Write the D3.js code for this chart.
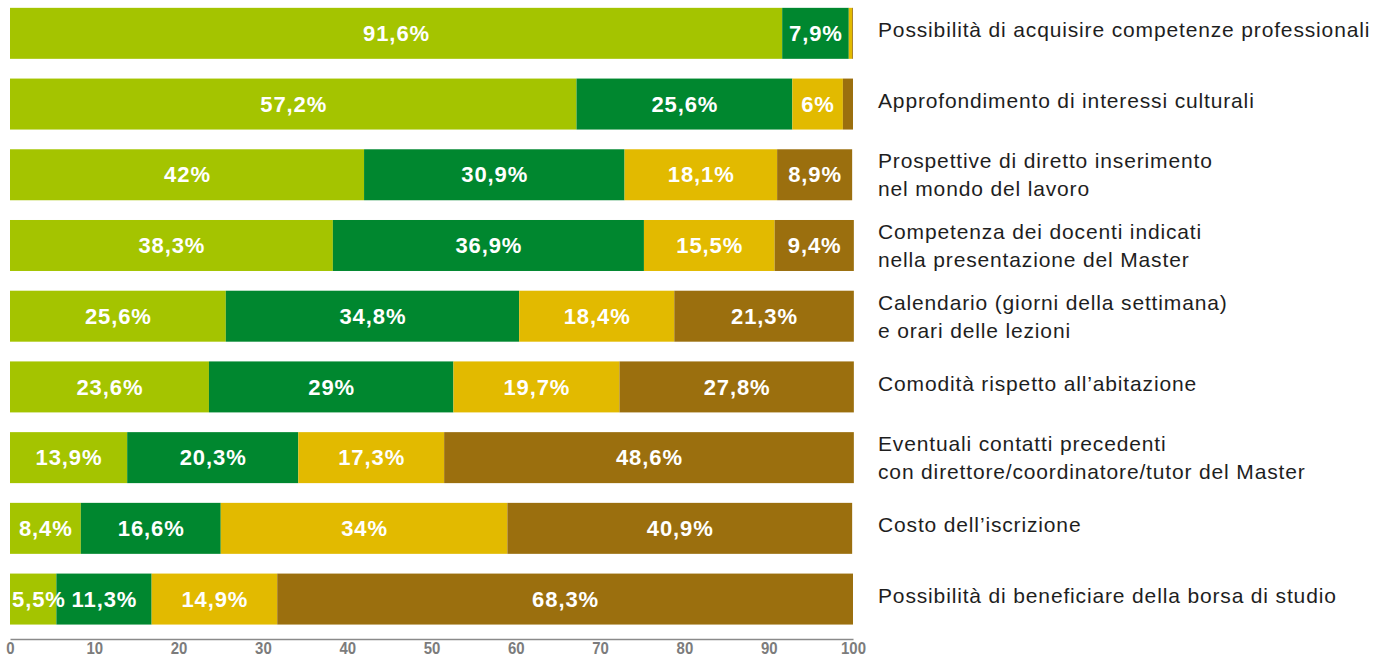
<!DOCTYPE html>
<html>
<head>
<meta charset="utf-8">
<script src="https://cdn.jsdelivr.net/npm/d3@7"></script>
<style>
html,body{margin:0;padding:0;background:#fff;}
svg{display:block;}
</style>
</head>
<body>
<svg id="chart" width="1376" height="658"></svg>
<script>
const categories = [
  ["Possibilità di acquisire competenze professionali"],
  ["Approfondimento di interessi culturali"],
  ["Prospettive di diretto inserimento", "nel mondo del lavoro"],
  ["Competenza dei docenti indicati", "nella presentazione del Master"],
  ["Calendario (giorni della settimana)", "e orari delle lezioni"],
  ["Comodità rispetto all’abitazione"],
  ["Eventuali contatti precedenti", "con direttore/coordinatore/tutor del Master"],
  ["Costo dell’iscrizione"],
  ["Possibilità di beneficiare della borsa di studio"]
];
// segment widths as drawn
const series1 = [91.6, 67.2, 42.0, 38.3, 25.6, 23.6, 13.9, 8.4, 5.5];
const series2 = [7.9, 25.6, 30.9, 36.9, 34.8, 29.0, 20.3, 16.6, 11.3];
const series3 = [0.4, 6.0, 18.1, 15.5, 18.4, 19.7, 17.3, 34.0, 14.9];
const series4 = [0.1, 1.2, 8.9, 9.4, 21.3, 27.8, 48.6, 40.9, 68.3];
// printed labels (as in the source)
const labels1 = ["91,6%", "57,2%", "42%", "38,3%", "25,6%", "23,6%", "13,9%", "8,4%", "5,5%"];
const labels2 = ["7,9%", "25,6%", "30,9%", "36,9%", "34,8%", "29%", "20,3%", "16,6%", "11,3%"];
const labels3 = ["", "6%", "18,1%", "15,5%", "18,4%", "19,7%", "17,3%", "34%", "14,9%"];
const labels4 = ["", "", "8,9%", "9,4%", "21,3%", "27,8%", "48,6%", "40,9%", "68,3%"];
const tickValues = [0, 10, 20, 30, 40, 50, 60, 70, 80, 90, 100];
const colors = ["#A4C400", "#00872F", "#E2BA00", "#9B6F0E"];

const seriesVals = [series1, series2, series3, series4];
const seriesLabels = [labels1, labels2, labels3, labels4];

const svg = d3.select("#chart");
const x = d3.scaleLinear().domain([0, 100]).range([10, 853]);
const y = d3.scaleBand().domain(d3.range(categories.length)).range([-2.2, 634.6]).paddingInner(0.279).paddingOuter(0.142);

const stacked = categories.map((c, i) => {
  let acc = 0;
  return seriesVals.map((s, k) => {
    const d = {row: i, k, x0: acc, x1: acc + s[i], label: seriesLabels[k][i]};
    acc += s[i];
    return d;
  });
});

const rows = svg.append("g").selectAll("g.row").data(stacked).join("g").attr("class", "row");
rows.selectAll("rect").data(d => d).join("rect")
  .attr("x", d => x(d.x0))
  .attr("width", d => Math.max(0, x(d.x1) - x(d.x0)))
  .attr("y", d => y(d.row))
  .attr("height", y.bandwidth())
  .attr("fill", d => colors[d.k]);

rows.selectAll("text").data(d => d.filter(e => e.label)).join("text")
  .attr("x", d => (x(d.x0) + x(d.x1)) / 2 + 0.45)
  .attr("y", d => y(d.row) + y.bandwidth() / 2)
  .attr("dy", "0.35em")
  .attr("text-anchor", "middle")
  .attr("fill", "#fff")
  .attr("font-family", "'Liberation Sans', Arial, sans-serif")
  .attr("font-weight", "bold")
  .attr("font-size", 22)
  .attr("letter-spacing", "0.9px")
  .text(d => d.label)
  .each(function() {
    // keep labels inside the chart's left edge
    const t = d3.select(this);
    const w = this.getComputedTextLength();
    const cx = +t.attr("x");
    const minCx = x(0) + 2 + w / 2;
    if (cx < minCx) t.attr("x", minCx);
  });

// category labels
const cat = svg.append("g").selectAll("text").data(categories).join("text")
  .attr("font-family", "'Liberation Sans', Arial, sans-serif")
  .attr("font-size", 21)
  .attr("letter-spacing", "0.85px")
  .attr("fill", "#1e1e1e")
  .attr("y", (d, i) => y(i) + y.bandwidth() / 2 + 4 - (d.length - 1) * 10.5);
cat.each(function(lines) {
  const t = d3.select(this);
  lines.forEach((ln, j) => {
    t.append("tspan")
      .attr("x", 878)
      .attr("dy", j === 0 ? 0 : 28)
      .text(ln);
  });
});

// axis
const axis = d3.axisBottom(x).tickValues(tickValues).tickSize(0).tickPadding(3).tickFormat(d3.format("d"));
const ax = svg.append("g").attr("transform", "translate(0,639)").call(axis);
ax.select(".domain").attr("stroke", "#8a8a8a").attr("stroke-width", 1.6);
ax.selectAll(".tick text")
  .attr("fill", "#7c7c7c")
  .attr("font-family", "'Liberation Sans', Arial, sans-serif")
  .attr("font-weight", "bold")
  .attr("font-size", 17)
  .each(function() {
    const w = this.getComputedTextLength();
    d3.select(this).attr("textLength", w * 0.88).attr("lengthAdjust", "spacingAndGlyphs");
  });
</script>
</body>
</html>
